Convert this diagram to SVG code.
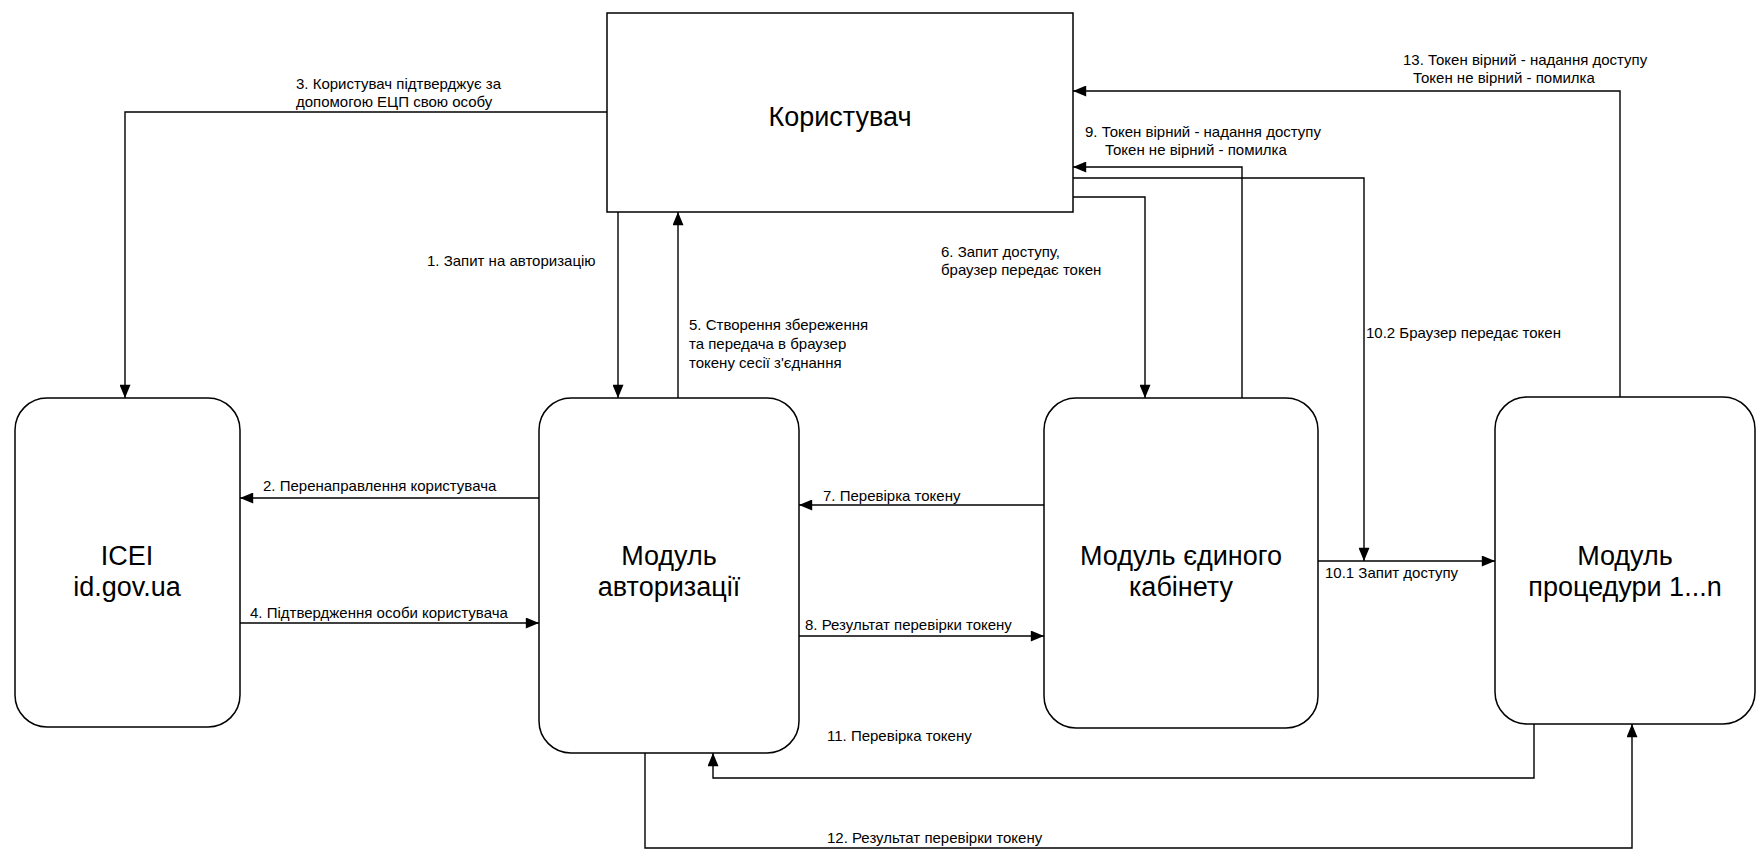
<svg xmlns="http://www.w3.org/2000/svg" width="1756" height="851" viewBox="0 0 1756 851">
<style>
.box{fill:#fff;stroke:#000;stroke-width:1.5}
.t{font-family:"Liberation Sans",Arial,sans-serif;font-size:27px;fill:#000;text-anchor:middle}
.l{font-family:"Liberation Sans",Arial,sans-serif;font-size:15px;fill:#000}
.c{fill:none;stroke:#000;stroke-width:1.4}
</style>
<defs>
<marker id="ah" viewBox="0 0 12 10" refX="12" refY="5" markerWidth="14" markerHeight="11" markerUnits="userSpaceOnUse" orient="auto"><path d="M0,0 L12,5 L0,10 z" fill="#000"/></marker>
</defs>
<rect width="1756" height="851" fill="#fff"/>
<g id="user"><rect class="box" x="607" y="13" width="466" height="199"/><text class="t" x="840" y="126">Користувач</text></g>
<g id="icei"><rect class="box" x="15" y="398" width="225" height="329" rx="32"/><text class="t" x="127" y="565">ICEI</text><text class="t" x="127" y="596">id.gov.ua</text></g>
<g id="auth"><rect class="box" x="539" y="398" width="260" height="355" rx="32"/><text class="t" x="669" y="565">Модуль</text><text class="t" x="669" y="596">авторизації</text></g>
<g id="cabinet"><rect class="box" x="1044" y="398" width="274" height="330" rx="32"/><text class="t" x="1181" y="565">Модуль єдиного</text><text class="t" x="1181" y="596">кабінету</text></g>
<g id="proc"><rect class="box" x="1495" y="397" width="260" height="327" rx="32"/><text class="t" x="1625" y="565">Модуль</text><text class="t" x="1625" y="596">процедури 1...n</text></g>
<g id="connectors">
<path class="c" marker-end="url(#ah)" d="M607,112 H125 V398"/>
<path class="c" marker-end="url(#ah)" d="M618,212 V398"/>
<path class="c" marker-end="url(#ah)" d="M678,398 V212"/>
<path class="c" marker-end="url(#ah)" d="M539,498 H240"/>
<path class="c" marker-end="url(#ah)" d="M240,623 H539"/>
<path class="c" marker-end="url(#ah)" d="M1073,197 H1145 V398"/>
<path class="c" marker-end="url(#ah)" d="M1044,505 H799"/>
<path class="c" marker-end="url(#ah)" d="M799,636 H1044"/>
<path class="c" marker-end="url(#ah)" d="M1242,398 V167 H1073"/>
<path class="c" marker-end="url(#ah)" d="M1073,178 H1364 V561"/>
<path class="c" marker-end="url(#ah)" d="M1318,561 H1495"/>
<path class="c" marker-end="url(#ah)" d="M1534,724 V778 H713 V753"/>
<path class="c" marker-end="url(#ah)" d="M645,753 V848 H1632 V724"/>
<path class="c" marker-end="url(#ah)" d="M1620,397 V91 H1073"/>
</g>
<g id="labels">
<text class="l" x="296" y="89">3. Користувач підтверджує за</text>
<text class="l" x="296" y="107">допомогою ЕЦП свою особу</text>
<text class="l" x="427" y="266">1. Запит на авторизацію</text>
<text class="l" x="689" y="330">5. Створення збереження</text>
<text class="l" x="689" y="349">та передача в браузер</text>
<text class="l" x="689" y="368">токену сесії з'єднання</text>
<text class="l" x="941" y="257">6. Запит доступу,</text>
<text class="l" x="941" y="275">браузер передає токен</text>
<text class="l" x="1085" y="137">9. Токен вірний - надання доступу</text>
<text class="l" x="1105" y="155">Токен не вірний - помилка</text>
<text class="l" x="1403" y="65">13. Токен вірний - надання доступу</text>
<text class="l" x="1413" y="83">Токен не вірний - помилка</text>
<text class="l" x="1366" y="338">10.2 Браузер передає токен</text>
<text class="l" x="1325" y="578">10.1 Запит доступу</text>
<text class="l" x="263" y="491">2. Перенаправлення користувача</text>
<text class="l" x="250" y="618">4. Підтвердження особи користувача</text>
<text class="l" x="823" y="501">7. Перевірка токену</text>
<text class="l" x="805" y="630">8. Результат перевірки токену</text>
<text class="l" x="827" y="741">11. Перевірка токену</text>
<text class="l" x="827" y="843">12. Результат перевірки токену</text>
</g>
</svg>
